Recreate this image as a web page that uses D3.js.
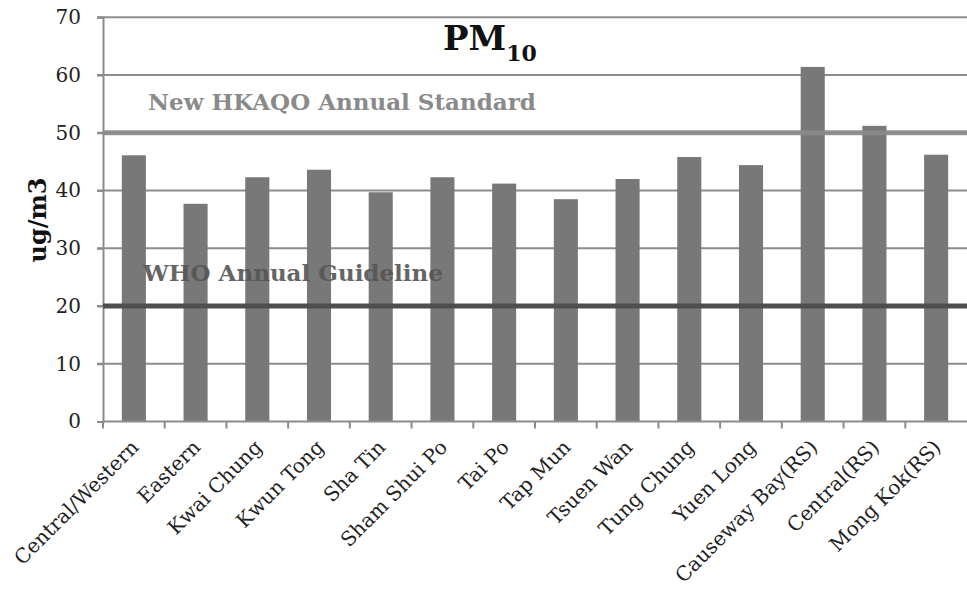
<!DOCTYPE html>
<html>
<head>
<meta charset="utf-8">
<script src="https://cdn.jsdelivr.net/npm/d3@7"></script>
<style>
  html, body { margin: 0; padding: 0; background: #fff; }
  svg { display: block; }
</style>
</head>
<body>
<svg id="chart" width="967" height="589"></svg>
<script>
const categories = ["Central/Western", "Eastern", "Kwai Chung", "Kwun Tong", "Sha Tin", "Sham Shui Po", "Tai Po", "Tap Mun", "Tsuen Wan", "Tung Chung", "Yuen Long", "Causeway Bay(RS)", "Central(RS)", "Mong Kok(RS)"];
const pm10 = [46.1, 37.7, 42.3, 43.6, 39.7, 42.3, 41.2, 38.5, 42.0, 45.8, 44.4, 61.4, 51.2, 46.2];
const yTicks = [0, 10, 20, 30, 40, 50, 60, 70];
const hkaqoStandard = 50;
const whoGuideline = 20;

const svg = d3.select("#chart");
const plotLeft = 103, plotRight = 967, plotTop = 17.3, plotBottom = 421.5;
const serif = "'DejaVu Serif', serif";

const x = d3.scaleBand().domain(categories).range([plotLeft, plotRight]).paddingInner(0.61).paddingOuter(0.305);
const xb = d3.scaleBand().domain(categories).range([plotLeft, plotRight]);
const y = d3.scaleLinear().domain([0, 70]).range([plotBottom, plotTop]);

// gridlines
svg.append("g").selectAll("line").data(yTicks.filter(d => d > 0)).join("line")
  .attr("x1", plotLeft - 6).attr("x2", plotRight)
  .attr("y1", d => y(d)).attr("y2", d => y(d))
  .attr("stroke", "#8c8c8c").attr("stroke-width", 2);

// y axis
const yAxis = svg.append("g").attr("transform", `translate(${plotLeft},0)`)
  .call(d3.axisLeft(y).tickValues(yTicks).tickSize(6).tickPadding(16));
yAxis.select(".domain").attr("stroke", "#8c8c8c").attr("stroke-width", 2);
yAxis.selectAll(".tick line").attr("stroke", "#8c8c8c").attr("stroke-width", 2);
yAxis.selectAll(".tick text").attr("font-family", serif).attr("font-size", 20).attr("fill", "#222");

// bars
svg.append("g").selectAll("rect").data(categories).join("rect")
  .attr("x", d => x(d))
  .attr("width", x.bandwidth())
  .attr("y", (d, i) => y(pm10[i]))
  .attr("height", (d, i) => y(0) - y(pm10[i]))
  .attr("fill", "#787878");

// reference lines
svg.append("line").attr("x1", plotLeft).attr("x2", plotRight)
  .attr("y1", y(hkaqoStandard)).attr("y2", y(hkaqoStandard))
  .attr("stroke", "#8a8a8a").attr("stroke-width", 5).attr("opacity", 0.9);
svg.append("line").attr("x1", plotLeft).attr("x2", plotRight)
  .attr("y1", y(whoGuideline)).attr("y2", y(whoGuideline))
  .attr("stroke", "#4e4e4e").attr("stroke-width", 5);

// x axis
const xAxis = svg.append("g").attr("transform", `translate(0,${plotBottom})`);
xAxis.append("line").attr("x1", plotLeft).attr("x2", plotRight).attr("y1", 0).attr("y2", 0)
  .attr("stroke", "#8c8c8c").attr("stroke-width", 2);
xAxis.selectAll("line.tk").data(categories).join("line").attr("class", "tk")
  .attr("x1", d => xb(d)).attr("x2", d => xb(d)).attr("y1", 0).attr("y2", 7)
  .attr("stroke", "#8c8c8c").attr("stroke-width", 2);
xAxis.selectAll("text").data(categories).join("text")
  .attr("transform", d => `translate(${xb(d) + xb.bandwidth() / 2 + 6},${27}) rotate(-45)`)
  .attr("text-anchor", "end")
  .attr("font-family", serif).attr("font-size", 20).attr("fill", "#222")
  .text(d => d);

// reference labels
svg.append("text").attr("x", 148).attr("y", 110)
  .attr("font-family", serif).attr("font-weight", "bold").attr("font-size", 23)
  .attr("fill", "#8a8a8a").text("New HKAQO Annual Standard");
svg.append("text").attr("x", 143).attr("y", 281)
  .attr("font-family", serif).attr("font-weight", "bold").attr("font-size", 23)
  .attr("fill", "#555").attr("opacity", 0.9).text("WHO Annual Guideline");

// title
const title = svg.append("text").attr("x", 443).attr("y", 50)
  .attr("font-family", serif).attr("font-weight", "bold").attr("font-size", 34).attr("fill", "#111");
title.append("tspan").text("PM");
title.append("tspan").attr("dy", 11).attr("font-size", 22).text("10");

// y label
svg.append("text").attr("transform", "translate(46,220) rotate(-90)")
  .attr("text-anchor", "middle")
  .attr("font-family", serif).attr("font-weight", "bold").attr("font-size", 24).attr("fill", "#111")
  .text("ug/m3");
</script>
</body>
</html>
